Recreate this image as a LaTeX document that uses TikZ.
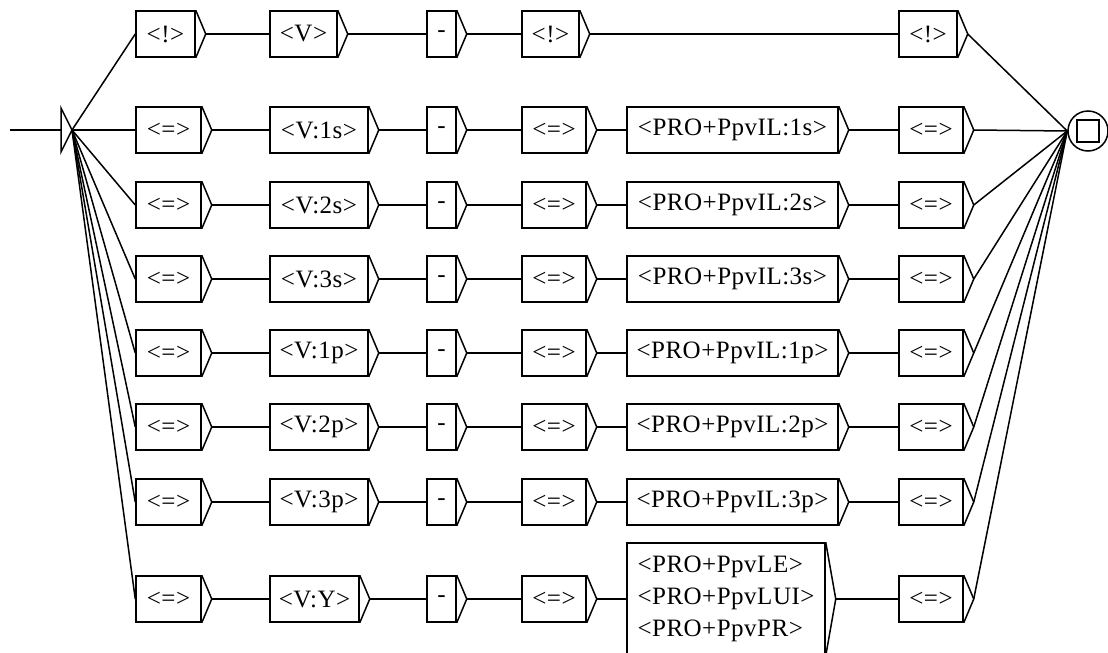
\documentclass[tikz,border=0pt]{standalone}
\usepackage{fontspec}
\newfontfamily\boxfont[LetterSpace=2]{Liberation Serif}

\begin{document}
\begin{tikzpicture}[x=1pt,y=-1pt,line width=1.5pt]
\tikzset{
  tokenbox/.style={rectangle,draw,minimum height=46pt,inner sep=0pt,font=\boxfont\fontsize{25}{32}\selectfont,
    append after command={
      (\tikzlastnode.north east) edge ([xshift=10pt]\tikzlastnode.east)
      (\tikzlastnode.south east) edge ([xshift=10pt]\tikzlastnode.east)
      ([xshift=10pt]\tikzlastnode.east) coordinate (\tikzlastnode-tip)}},
  link/.style={line width=1.5pt}
}
\useasboundingbox (0,0) rectangle (1108,653);
% initial and final states
\coordinate (n_start) at (10,130);
\coordinate (n_initback) at (61,130);
\coordinate (n_init) at (72,130);
\draw (61,108) -- (n_init) -- (61,152) -- cycle;
\node[draw,circle,minimum size=40pt,inner sep=0pt] (n_final) at (1088,131) {};
\node[draw,minimum size=22pt,inner sep=0pt] (n_finalsq) at (n_final) {};
% row 0
\node[tokenbox,minimum width=59pt] (n_r0c1) at (165.5,34) {<!>};
\node[tokenbox,minimum width=67pt] (n_r0c2) at (303.5,34) {<V>};
\node[tokenbox,minimum width=29pt] (n_r0c3) at (441.5,34) {-};
\node[tokenbox,minimum width=57pt] (n_r0c4) at (550.5,34) {<!>};
\node[tokenbox,minimum width=58pt] (n_r0c6) at (928,34) {<!>};
% row 1
\node[tokenbox,minimum width=65pt] (n_r1c1) at (168.5,130) {<=>};
\node[tokenbox,minimum width=98pt] (n_r1c2) at (319,130) {<V:1s>};
\node[tokenbox,minimum width=29pt] (n_r1c3) at (441.5,130) {-};
\node[tokenbox,minimum width=64pt] (n_r1c4) at (554,130) {<=>};
\node[tokenbox,minimum width=211pt] (n_r1c5) at (732.5,130) {<PRO+PpvIL:1s>};
\node[tokenbox,minimum width=64pt] (n_r1c6) at (931,130) {<=>};
% row 2
\node[tokenbox,minimum width=65pt] (n_r2c1) at (168.5,205) {<=>};
\node[tokenbox,minimum width=98pt] (n_r2c2) at (319,205) {<V:2s>};
\node[tokenbox,minimum width=29pt] (n_r2c3) at (441.5,205) {-};
\node[tokenbox,minimum width=64pt] (n_r2c4) at (554,205) {<=>};
\node[tokenbox,minimum width=211pt] (n_r2c5) at (732.5,205) {<PRO+PpvIL:2s>};
\node[tokenbox,minimum width=64pt] (n_r2c6) at (931,205) {<=>};
% row 3
\node[tokenbox,minimum width=65pt] (n_r3c1) at (168.5,279) {<=>};
\node[tokenbox,minimum width=98pt] (n_r3c2) at (319,279) {<V:3s>};
\node[tokenbox,minimum width=29pt] (n_r3c3) at (441.5,279) {-};
\node[tokenbox,minimum width=64pt] (n_r3c4) at (554,279) {<=>};
\node[tokenbox,minimum width=211pt] (n_r3c5) at (732.5,279) {<PRO+PpvIL:3s>};
\node[tokenbox,minimum width=64pt] (n_r3c6) at (931,279) {<=>};
% row 4
\node[tokenbox,minimum width=65pt] (n_r4c1) at (168.5,353) {<=>};
\node[tokenbox,minimum width=98pt] (n_r4c2) at (319,353) {<V:1p>};
\node[tokenbox,minimum width=29pt] (n_r4c3) at (441.5,353) {-};
\node[tokenbox,minimum width=64pt] (n_r4c4) at (554,353) {<=>};
\node[tokenbox,minimum width=211pt] (n_r4c5) at (732.5,353) {<PRO+PpvIL:1p>};
\node[tokenbox,minimum width=64pt] (n_r4c6) at (931,353) {<=>};
% row 5
\node[tokenbox,minimum width=65pt] (n_r5c1) at (168.5,427) {<=>};
\node[tokenbox,minimum width=98pt] (n_r5c2) at (319,427) {<V:2p>};
\node[tokenbox,minimum width=29pt] (n_r5c3) at (441.5,427) {-};
\node[tokenbox,minimum width=64pt] (n_r5c4) at (554,427) {<=>};
\node[tokenbox,minimum width=211pt] (n_r5c5) at (732.5,427) {<PRO+PpvIL:2p>};
\node[tokenbox,minimum width=64pt] (n_r5c6) at (931,427) {<=>};
% row 6
\node[tokenbox,minimum width=65pt] (n_r6c1) at (168.5,502) {<=>};
\node[tokenbox,minimum width=98pt] (n_r6c2) at (319,502) {<V:3p>};
\node[tokenbox,minimum width=29pt] (n_r6c3) at (441.5,502) {-};
\node[tokenbox,minimum width=64pt] (n_r6c4) at (554,502) {<=>};
\node[tokenbox,minimum width=211pt] (n_r6c5) at (732.5,502) {<PRO+PpvIL:3p>};
\node[tokenbox,minimum width=64pt] (n_r6c6) at (931,502) {<=>};
% row 7
\node[tokenbox,minimum width=65pt] (n_r7c1) at (168.5,599) {<=>};
\node[tokenbox,minimum width=89pt] (n_r7c2) at (314.5,599) {<V:Y>};
\node[tokenbox,minimum width=29pt] (n_r7c3) at (441.5,599) {-};
\node[tokenbox,minimum width=64pt] (n_r7c4) at (554,599) {<=>};
\node[tokenbox,minimum width=198pt,minimum height=112pt,align=left] (n_r7c5) at (726,599) {<PRO+PpvLE>\\<PRO+PpvLUI>\\<PRO+PpvPR>};
\node[tokenbox,minimum width=64pt] (n_r7c6) at (931,599) {<=>};
% transitions
\draw[link] (n_start) -- (n_initback);
\draw[link] (n_init) -- (n_r0c1.west);
\draw[link] (n_init) -- (n_r1c1.west);
\draw[link] (n_init) -- (n_r2c1.west);
\draw[link] (n_init) -- (n_r3c1.west);
\draw[link] (n_init) -- (n_r4c1.west);
\draw[link] (n_init) -- (n_r5c1.west);
\draw[link] (n_init) -- (n_r6c1.west);
\draw[link] (n_init) -- (n_r7c1.west);
\draw[link] (n_r0c1-tip) -- (n_r0c2.west);
\draw[link] (n_r0c2-tip) -- (n_r0c3.west);
\draw[link] (n_r0c3-tip) -- (n_r0c4.west);
\draw[link] (n_r0c4-tip) -- (n_r0c6.west);
\draw[link] (n_r1c1-tip) -- (n_r1c2.west);
\draw[link] (n_r1c2-tip) -- (n_r1c3.west);
\draw[link] (n_r1c3-tip) -- (n_r1c4.west);
\draw[link] (n_r1c4-tip) -- (n_r1c5.west);
\draw[link] (n_r1c5-tip) -- (n_r1c6.west);
\draw[link] (n_r2c1-tip) -- (n_r2c2.west);
\draw[link] (n_r2c2-tip) -- (n_r2c3.west);
\draw[link] (n_r2c3-tip) -- (n_r2c4.west);
\draw[link] (n_r2c4-tip) -- (n_r2c5.west);
\draw[link] (n_r2c5-tip) -- (n_r2c6.west);
\draw[link] (n_r3c1-tip) -- (n_r3c2.west);
\draw[link] (n_r3c2-tip) -- (n_r3c3.west);
\draw[link] (n_r3c3-tip) -- (n_r3c4.west);
\draw[link] (n_r3c4-tip) -- (n_r3c5.west);
\draw[link] (n_r3c5-tip) -- (n_r3c6.west);
\draw[link] (n_r4c1-tip) -- (n_r4c2.west);
\draw[link] (n_r4c2-tip) -- (n_r4c3.west);
\draw[link] (n_r4c3-tip) -- (n_r4c4.west);
\draw[link] (n_r4c4-tip) -- (n_r4c5.west);
\draw[link] (n_r4c5-tip) -- (n_r4c6.west);
\draw[link] (n_r5c1-tip) -- (n_r5c2.west);
\draw[link] (n_r5c2-tip) -- (n_r5c3.west);
\draw[link] (n_r5c3-tip) -- (n_r5c4.west);
\draw[link] (n_r5c4-tip) -- (n_r5c5.west);
\draw[link] (n_r5c5-tip) -- (n_r5c6.west);
\draw[link] (n_r6c1-tip) -- (n_r6c2.west);
\draw[link] (n_r6c2-tip) -- (n_r6c3.west);
\draw[link] (n_r6c3-tip) -- (n_r6c4.west);
\draw[link] (n_r6c4-tip) -- (n_r6c5.west);
\draw[link] (n_r6c5-tip) -- (n_r6c6.west);
\draw[link] (n_r7c1-tip) -- (n_r7c2.west);
\draw[link] (n_r7c2-tip) -- (n_r7c3.west);
\draw[link] (n_r7c3-tip) -- (n_r7c4.west);
\draw[link] (n_r7c4-tip) -- (n_r7c5.west);
\draw[link] (n_r7c5-tip) -- (n_r7c6.west);
\draw[link] (n_r0c6-tip) -- (n_final.west);
\draw[link] (n_r1c6-tip) -- (n_final.west);
\draw[link] (n_r2c6-tip) -- (n_final.west);
\draw[link] (n_r3c6-tip) -- (n_final.west);
\draw[link] (n_r4c6-tip) -- (n_final.west);
\draw[link] (n_r5c6-tip) -- (n_final.west);
\draw[link] (n_r6c6-tip) -- (n_final.west);
\draw[link] (n_r7c6-tip) -- (n_final.west);
\end{tikzpicture}
\end{document}
